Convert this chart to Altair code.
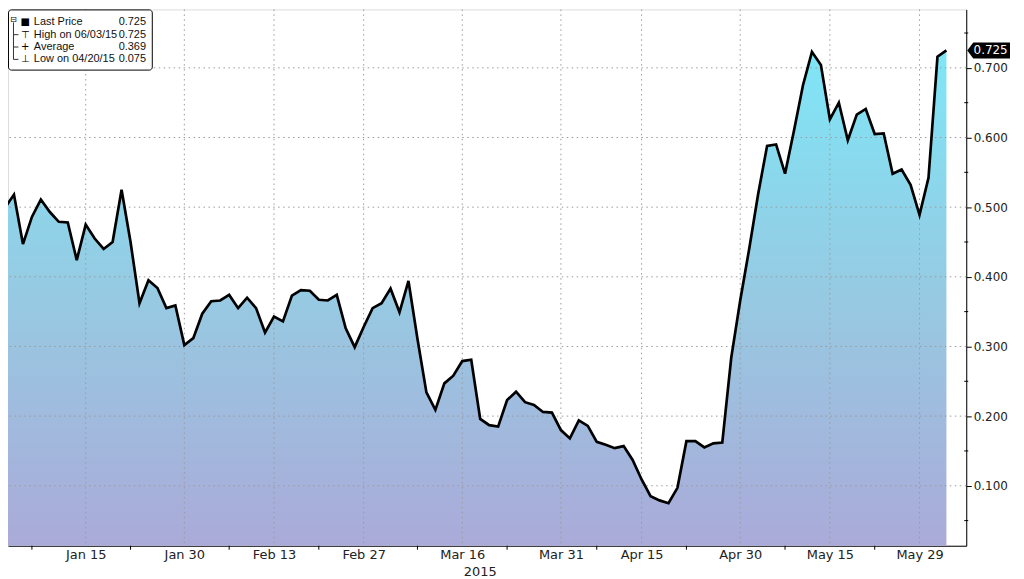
import json
import altair as alt
import pandas as pd

# ---- data (trading-day index 0 = Jan 2, 2015) ----
values = [
    0.499, 0.518, 0.447, 0.486, 0.511, 0.493, 0.479, 0.478, 0.424, 0.475,
    0.455, 0.440, 0.450, 0.525, 0.450, 0.362, 0.395, 0.384, 0.355, 0.359,
    0.302, 0.312, 0.347, 0.365, 0.366, 0.374, 0.355, 0.370, 0.355, 0.320,
    0.343, 0.336, 0.373, 0.381, 0.380, 0.367, 0.366, 0.374, 0.326, 0.299,
    0.328, 0.355, 0.362, 0.383, 0.349, 0.394, 0.311, 0.234, 0.209, 0.247,
    0.258, 0.279, 0.281, 0.196, 0.187, 0.185, 0.223, 0.235, 0.220, 0.216,
    0.206, 0.205, 0.180, 0.168, 0.194, 0.186, 0.163, 0.159, 0.154, 0.157,
    0.137, 0.109, 0.085, 0.079, 0.075, 0.097, 0.164, 0.164, 0.155, 0.161,
    0.162, 0.284, 0.366, 0.440, 0.519, 0.588, 0.590, 0.548, 0.610, 0.675,
    0.723, 0.704, 0.626, 0.650, 0.596, 0.633, 0.641, 0.605, 0.606, 0.548,
    0.554, 0.532, 0.489, 0.542, 0.716, 0.725,
]
tick_idx = [9, 20, 30, 40, 51, 62, 71, 82, 92, 102]
tick_labels = ["Jan 15", "Jan 30", "Feb 13", "Feb 27", "Mar 16",
               "Mar 31", "Apr 15", "Apr 30", "May 15", "May 29"]
minor_x_idx = [3, 14, 25, 35, 46, 56, 66, 76, 87, 97]
year_idx = [51]
year_label = ["2015"]
y_ticks = [0.1, 0.2, 0.3, 0.4, 0.5, 0.6, 0.7]
y_minor = [0.05, 0.15, 0.25, 0.35, 0.45, 0.55, 0.65, 0.75]
legend_symbols = ["■", "⊤", "+", "⊥"]
legend_labels = ["Last Price", "High on 06/03/15", "Average", "Low on 04/20/15"]
legend_values = ["0.725", "0.725", "0.369", "0.075"]

# ---- layout ----
W, H = 963, 539
XDOM = [0.333, 107.21]
YDOM = [0.0139, 0.7839]
FONT = "DejaVu Sans"
LFONT = "Liberation Sans"

df = pd.DataFrame({"i": list(range(len(values))), "v": values})
xs = alt.Scale(domain=XDOM, nice=False, zero=False)
ys = alt.Scale(domain=YDOM, nice=False, zero=False)

label_expr = f"{json.dumps(tick_labels)}[indexof({json.dumps(tick_idx)}, datum.value)]"
x_axis = alt.Axis(values=tick_idx, labelExpr=label_expr, grid=False, ticks=False,
                  domainColor="black", domainWidth=1, labelFontSize=13, labelColor="#222",
                  labelFont=FONT, labelPadding=3, labelFlush=False, title=None)
y_axis = alt.Axis(orient="right", values=y_ticks, format=".3f", grid=False, tickSize=5,
                  tickColor="black", domainColor="black", domainWidth=1, labelFontSize=12,
                  labelColor="#222", labelFont=FONT, labelPadding=2, title=None,
                  labelFlush=False)

X = alt.X("i:Q", scale=xs, axis=x_axis)
Y = alt.Y("v:Q", scale=ys, axis=y_axis)

grad = alt.Gradient(
    gradient="linear",
    stops=[alt.GradientStop(color="#7fe6f6", offset=0),
           alt.GradientStop(color="#97c9e2", offset=0.5),
           alt.GradientStop(color="#aba9d8", offset=1)],
    x1=1, x2=1, y1=0, y2=1,
)

area = alt.Chart(df).mark_area(clip=True, color=grad, opacity=1).encode(
    x=X, y=Y, y2=alt.value(H)
)

vgrid = alt.Chart(pd.DataFrame({"i": tick_idx})).mark_rule(
    color="#9a9a9a", strokeDash=[1.5, 3.5], strokeWidth=1
).encode(x=X)

hgrid = alt.Chart(pd.DataFrame({"v": y_ticks})).mark_rule(
    color="#9a9a9a", strokeDash=[1.5, 3.5], strokeWidth=1
).encode(y=Y)

line = alt.Chart(df).mark_line(clip=True, color="black", strokeWidth=2.7).encode(x=X, y=Y)

xminor = alt.Chart(pd.DataFrame({"i": minor_x_idx})).mark_rule(color="black").encode(
    x=X, y=alt.value(H), y2=alt.value(H + 4)
)
yminor = alt.Chart(pd.DataFrame({"v": y_minor})).mark_rule(color="black").encode(
    y=Y, x=alt.value(W - 2), x2=alt.value(W + 2)
)

year = alt.Chart(pd.DataFrame({"i": year_idx, "t": year_label})).mark_text(
    dx=18, fontSize=13, font=FONT, color="#222", baseline="alphabetic"
).encode(x=X, y=alt.value(H + 30), text="t:N")

last_df = df.tail(1)
callout_shape = "M-1,0 L-0.72,-0.372 L1,-0.372 L1,0.372 L-0.72,0.372 Z"
callout = alt.Chart(last_df).mark_point(
    shape=callout_shape, size=1849, filled=True, color="black", opacity=1
).encode(x=alt.value(W + 22.5), y=Y)
callout_text = alt.Chart(last_df).mark_text(
    color="white", fontSize=12, font=FONT, align="center", baseline="middle"
).encode(x=alt.value(W + 24.5), y=Y, text=alt.Text("v:Q", format=".3f"))

# ---- legend box ----
box = alt.Chart(pd.DataFrame({"a": [0]})).mark_rect(
    fill="white", stroke="black", strokeWidth=1, cornerRadius=3
).encode(x=alt.value(0.5), x2=alt.value(145), y=alt.value(0.5), y2=alt.value(61))

leg_df = pd.DataFrame({"sym": legend_symbols, "lab": legend_labels, "val": legend_values,
                       "k": list(range(len(legend_labels)))})
leg_base = alt.Chart(leg_df).transform_calculate(ly="13 + 12.4 * datum.k")
leg_sym = leg_base.mark_text(fontSize=10, font=FONT, color="black", align="center",
                             baseline="middle").encode(
    x=alt.value(17.3), y=alt.Y("ly:Q", scale=None), text="sym:N")
leg_lab = leg_base.mark_text(fontSize=11, font=LFONT, color="#111", align="left",
                             baseline="middle").encode(
    x=alt.value(26), y=alt.Y("ly:Q", scale=None), text="lab:N")
leg_val = leg_base.mark_text(fontSize=11, font=LFONT, color="#111", align="right",
                             baseline="middle").encode(
    x=alt.value(138.7), y=alt.Y("ly:Q", scale=None), text="val:N")
tree_v = alt.Chart(pd.DataFrame({"a": [0]})).mark_rule(color="#333", strokeWidth=1).encode(
    x=alt.value(5.5), y=alt.value(13), y2=alt.value(50.2))
tree_h = leg_base.transform_filter("datum.k > 0").mark_rule(color="#333", strokeWidth=1).encode(
    x=alt.value(5.5), x2=alt.value(10.5), y=alt.Y("ly:Q", scale=None))
tree_box = alt.Chart(pd.DataFrame({"t": ["⊟"]})).mark_text(
    fontSize=8, font=FONT, color="black", align="center", baseline="middle"
).encode(x=alt.value(5.5), y=alt.value(10.5), text="t:N")

chart = alt.layer(
    area, vgrid, hgrid, line, xminor, yminor, year, callout, callout_text,
    box, tree_v, tree_h, tree_box, leg_sym, leg_lab, leg_val
).properties(
    width=W, height=H,
    autosize=alt.AutoSizeParams(type="none"),
    padding={"left": 0, "top": 0, "right": 50, "bottom": 32},
    background="white",
).configure_view(stroke=None).configure(font=FONT)

chart.save("out.html", embed_options={"renderer": "svg", "actions": False})
